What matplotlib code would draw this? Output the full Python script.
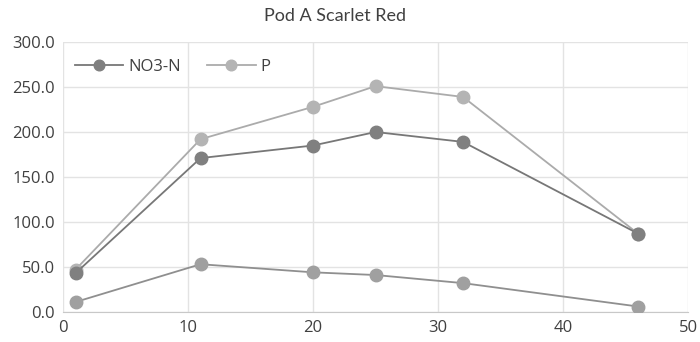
import matplotlib
matplotlib.use("Agg")
import matplotlib.pyplot as plt

plt.rcParams['font.family'] = ['Open Sans', 'DejaVu Sans']

days = [1, 11, 20, 25, 32, 46]
no3n = [43, 171, 185, 200, 189, 87]
p_vals = [47, 192, 228, 251, 239, 87]
third = [11, 53, 44, 41, 32, 6]

title = "Pod A Scarlet Red"
yticks = [0, 50, 100, 150, 200, 250, 300]
xticks = [0, 10, 20, 30, 40, 50]

fig = plt.figure(figsize=(7, 3.42), dpi=100)
ax = fig.add_axes([0.09, 0.088, 0.893, 0.789])

ax.plot(days, third, color='#8f8f8f', lw=1.3, marker='o', ms=9,
        mfc='#a0a0a0', mec='#a0a0a0', zorder=3)
ax.plot(days, p_vals, color='#ababab', lw=1.3, marker='o', ms=9,
        mfc='#b4b4b4', mec='#b4b4b4', label='P', zorder=3)
ax.plot(days, no3n, color='#777777', lw=1.3, marker='o', ms=9,
        mfc='#808080', mec='#808080', label='NO3-N', zorder=4)

ax.set_xlim(0, 50)
ax.set_ylim(0, 300)
ax.set_xticks(xticks)
ax.set_yticks(yticks)
ax.set_yticklabels([f"{v:.1f}" for v in yticks])
ax.grid(True, color='#e3e3e3', lw=1)
ax.set_axisbelow(True)
for s in ['top', 'right', 'left']:
    ax.spines[s].set_visible(False)
ax.spines['bottom'].set_color('#c8c8c8')
ax.tick_params(length=0, labelsize=12, colors='#404040', pad=6)

handles, labels = ax.get_legend_handles_labels()
order = [1, 0]
ax.legend([handles[i] for i in order], [labels[i] for i in order],
          loc='upper left', ncol=2, frameon=False, fontsize=12,
          bbox_to_anchor=(0.0, 0.98), borderaxespad=0.3,
          handlelength=2.9, handletextpad=0.3, columnspacing=1.6,
          markerscale=0.85, labelcolor='#404040')

fig.text(0.479, 0.953, title, ha='center', va='center', fontsize=13,
         color='#404040', family=['Lato', 'DejaVu Sans'])

fig.savefig('out.png', dpi=100)
